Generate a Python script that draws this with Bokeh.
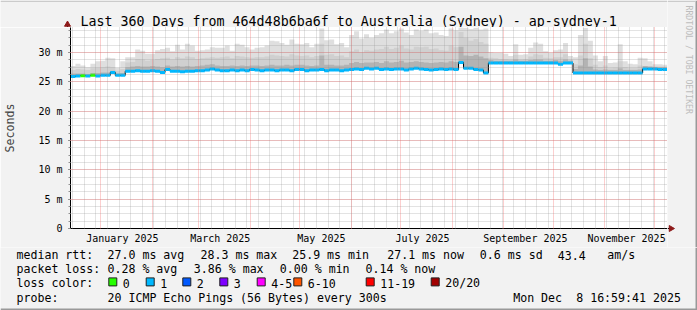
import math
import pandas as pd
from bokeh.plotting import figure
from bokeh.layouts import column, row
from bokeh.models import (FixedTicker, Range1d, ColumnDataSource, DatetimeTickFormatter, Plot)
from bokeh.core.properties import value
from bokeh.embed import file_html
from bokeh.resources import INLINE

FONT = "DejaVu Sans Mono"

# ---------------- data ----------------
START = "2024-12-13 16:59:41"
END = "2025-12-08 16:59:41"
BIN_DAYS = 3

# median rtt per 3-day bin (ms)
median = [
    25.9, 26.0, 26.05, 26.0, 26.1, 26.0, 26.1, 26.1, 26.6, 26.1,
    26.1, 26.8, 26.8, 26.9, 26.8, 26.8, 26.9, 26.8, 26.6, 27.1,
    26.8, 26.8, 26.7, 26.8, 26.8, 26.9, 26.9, 27.0, 27.2, 27.0,
    26.9, 26.9, 27.0, 26.9, 27.0, 26.9, 27.1, 27.0, 26.9, 27.0,
    27.0, 26.9, 27.0, 27.0, 26.9, 27.1, 27.1, 26.9, 27.0, 27.0,
    27.1, 26.9, 27.0, 27.0, 26.9, 27.0, 27.1, 27.2, 27.1, 27.3,
    27.2, 27.3, 27.1, 27.2, 27.1, 27.2, 27.2, 27.0, 27.2, 27.3,
    27.2, 27.1, 27.0, 27.1, 27.2, 27.1, 27.2, 27.1, 28.3, 27.3,
    27.3, 27.1, 27.0, 26.5, 28.2, 28.2, 28.2, 28.2, 28.2, 28.2,
    28.2, 28.2, 28.2, 28.2, 28.2, 28.2, 28.2, 28.2, 28.0, 28.2,
    28.2, 26.5, 26.5, 26.5, 26.5, 26.5, 26.5, 26.5, 26.5, 26.5,
    26.5, 26.5, 26.5, 26.5, 26.5, 27.2, 27.2, 27.2, 27.1, 27.1,
]

# smoke: maximum ping (outer envelope)
smoke_max = [
    27.7, 28.1, 27.8, 27.5, 28.1, 28.5, 28.6, 29.1, 29.0, 27.4,
    28.5, 29.2, 29.2, 30.5, 30.3, 29.8, 29.8, 30.4, 30.6, 30.8,
    30.2, 31.3, 30.5, 31.5, 31.2, 30.3, 30.4, 30.5, 30.9, 30.8,
    30.8, 31.2, 30.3, 31.5, 31.3, 30.9, 30.5, 30.8, 30.9, 31.2,
    32.0, 31.9, 31.6, 31.3, 32.2, 31.5, 31.4, 31.6, 30.9, 31.5,
    34.1, 32.1, 32.2, 31.4, 31.6, 30.9, 33.0, 33.6, 32.4, 33.1,
    32.5, 33.0, 33.3, 33.9, 33.3, 33.6, 34.1, 33.4, 33.0, 33.9,
    33.7, 33.9, 33.3, 33.4, 33.0, 32.8, 34.1, 33.8, 34.3, 34.2,
    34.0, 34.2, 33.9, 34.1, 30.0, 29.9, 29.9, 29.8, 29.4, 31.4,
    29.6, 29.7, 30.8, 31.7, 31.5, 30.2, 29.9, 30.4, 30.5, 31.6,
    29.4, 29.2, 33.0, 34.2, 32.0, 29.5, 28.5, 29.4, 28.2, 28.3,
    31.4, 28.5, 28.1, 28.0, 29.1, 29.0, 28.5, 28.0, 28.0, 27.9,
]

# smoke: middle band upper edge
smoke_mid = [
    27.0, 27.2, 27.1, 27.0, 27.3, 27.4, 27.5, 27.6, 27.5, 26.9,
    27.2, 28.3, 28.4, 28.9, 28.8, 28.6, 28.7, 28.9, 29.0, 29.1,
    28.8, 29.2, 29.0, 29.3, 29.2, 28.9, 29.0, 29.1, 29.2, 29.1,
    29.2, 29.3, 29.0, 29.4, 29.3, 29.2, 29.1, 29.2, 29.2, 29.3,
    29.6, 29.5, 29.4, 29.3, 29.7, 29.5, 29.4, 29.5, 29.2, 29.4,
    31.5, 29.6, 29.7, 29.4, 29.5, 29.2, 30.2, 30.5, 30.0, 30.4,
    30.3, 30.5, 30.6, 31.0, 30.6, 30.8, 31.2, 30.7, 30.5, 31.0,
    30.9, 31.0, 30.6, 30.7, 30.4, 30.3, 31.2, 30.9, 33.5, 32.5,
    32.0, 32.3, 31.8, 31.5, 29.1, 29.0, 28.9, 28.9, 28.8, 29.6,
    28.8, 28.9, 29.3, 29.7, 29.6, 29.1, 29.0, 29.2, 29.2, 29.7,
    28.8, 28.0, 29.5, 31.5, 29.0, 27.9, 27.5, 27.8, 27.3, 27.4,
    28.5, 27.5, 27.3, 27.3, 27.8, 27.7, 27.6, 27.6, 27.6, 27.6,
]

# smoke: dense inner band upper edge
smoke_inner = [
    26.4, 26.4, 26.4, 26.3, 26.5, 26.5, 26.6, 26.6, 26.9, 26.4,
    26.5, 27.5, 27.6, 27.7, 27.6, 27.6, 27.7, 27.6, 27.5, 27.8,
    27.6, 27.7, 27.6, 27.7, 27.6, 27.7, 27.8, 27.9, 28.0, 27.8,
    27.7, 27.7, 27.8, 27.7, 27.8, 27.7, 27.8, 27.8, 27.7, 27.8,
    27.9, 27.8, 27.8, 27.9, 27.8, 27.9, 27.9, 27.8, 27.7, 27.8,
    29.5, 27.9, 27.9, 27.8, 27.8, 27.9, 28.2, 28.4, 28.2, 28.3,
    28.3, 28.4, 28.2, 28.5, 28.3, 28.4, 28.6, 28.3, 28.4, 28.5,
    28.4, 28.3, 28.2, 28.3, 28.4, 28.3, 28.5, 28.4, 31.0, 29.5,
    29.4, 29.6, 29.3, 29.0, 28.7, 28.6, 28.6, 28.6, 28.6, 28.8,
    28.6, 28.6, 28.7, 28.8, 28.8, 28.6, 28.6, 28.7, 28.6, 28.8,
    28.6, 27.2, 27.8, 29.0, 27.6, 27.1, 27.0, 27.1, 27.0, 27.0,
    27.3, 27.0, 27.0, 27.0, 27.1, 27.7, 27.6, 27.5, 27.5, 27.5,
]

# packet loss class of each bin (index into loss_labels)
loss = [1] * 120
loss[2] = 0
loss[4] = 0

loss_labels = ["0", "1", "2", "3", "4-5", "6-10", "11-19", "20/20"]
loss_colors = ["#26ff00", "#00b8ff", "#0059ff", "#7e00ff",
               "#ff00ff", "#ff5500", "#ff0000", "#a10000"]

y_ticks = [0, 5, 10, 15, 20, 25, 30]
y_tick_labels = ["0", "5 m", "10 m", "15 m", "20 m", "25 m", "30 m"]
y_minor_step = 1.25

x_tick_months = ["2025-01-01", "2025-03-01", "2025-05-01",
                 "2025-07-01", "2025-09-01", "2025-11-01"]
x_tick_labels = ["January 2025", "March 2025", "May 2025",
                 "July 2025", "September 2025", "November 2025"]

title_text = "Last 360 Days from 464d48b6ba6f to Australia (Sydney) - ap-sydney-1"
rtt_stats = ["27.0 ms avg", "28.3 ms max", "25.9 ms min", "27.1 ms now",
             "0.6 ms sd", "43.4", "am/s"]
loss_stats = ["0.28 % avg", "3.86 % max", "0.00 % min", "0.14 % now"]
probe_text = "20 ICMP Echo Pings (56 Bytes) every 300s"
stamp_parts = ["Mon Dec", "8 16:59:41 2025"]
watermark = "RRDTOOL / TOBI OETIKER"

# ---------------- layout constants (canvas pixels) ----------------
W, H = 697, 310
FL, FT, FW, FH = 67, 27, 600, 201        # plot frame
MAIN_H = 220                              # main figure height (below top strip)
SPLIT = FT + MAIN_H                       # canvas y where legend strip starts
Y_MAX = 34.26
BG = "#f2f2f2"
ARROW = "#8e1a1a"
TXT = "11.6px"
BASE_FIX = -3.3                           # text glyph baseline correction
HAS_FRAME_ALIGN = "frame_align" in Plot.properties()


def ms(ts):
    return int(pd.Timestamp(ts).value // 10**6)


def no_align(f):
    if HAS_FRAME_ALIGN:
        f.frame_align = False
    return f


def strip(w, h, x0, y0):
    """A frameless figure whose data coordinates equal canvas pixels."""
    f = figure(width=w, height=h, x_range=Range1d(x0, x0 + w),
               y_range=Range1d(y0 + h, y0), output_backend="svg",
               toolbar_location=None, min_border=0, x_axis_location=None,
               y_axis_location=None, title=None, background_fill_color=BG,
               border_fill_color=BG, outline_line_color=None)
    f.grid.visible = False
    return no_align(f)


def put_text(f, texts, xs, ys, size=TXT, color="black", angle=0.0,
             align="left", baseline="alphabetic", fix=BASE_FIX):
    f.text(x=xs, y=[y + fix for y in ys], text=texts, text_font=value(FONT),
           text_font_size=value(size), text_color=color, angle=angle,
           text_align=align, text_baseline=baseline)


# ---------------- main plot ----------------
n = len(median)
edges = pd.date_range(start=START, periods=n + 1, freq=f"{BIN_DAYS}D")
t0, t1 = pd.Timestamp(START), pd.Timestamp(END)

p = figure(width=FL + FW, height=MAIN_H, x_axis_type="datetime",
           x_range=Range1d(t0, t1), y_range=Range1d(0, Y_MAX),
           output_backend="svg", toolbar_location=None, title=None,
           min_border_left=FL, min_border_right=0, min_border_top=0,
           min_border_bottom=MAIN_H - FH,
           background_fill_color="white", border_fill_color=BG,
           outline_line_color=None)
no_align(p)

ext = lambda a: list(a) + [a[-1]]
step_src = ColumnDataSource(dict(
    x=edges.to_numpy(), med=ext(median), mx=ext(smoke_max),
    mid=ext(smoke_mid), inner=ext(smoke_inner)))

p.varea_step(x="x", y1="med", y2="mx", step_mode="after", source=step_src,
             fill_color="#dfdfdf")
p.varea_step(x="x", y1="med", y2="mid", step_mode="after", source=step_src,
             fill_color="#d0d0d0")
p.varea_step(x="x", y1="med", y2="inner", step_mode="after", source=step_src,
             fill_color="#b3b3b3")
p.step(x="x", y="med", mode="after", source=step_src,
       line_color="black", line_width=1)

seg_src = ColumnDataSource(dict(
    x0=edges[:-1].to_numpy(), x1=edges[1:].to_numpy(), y=median,
    c=[loss_colors[k] for k in loss]))
p.segment(x0="x0", y0="y", x1="x1", y1="y", line_color="c", line_width=3,
          source=seg_src)

label_ms = [ms(pd.Timestamp(m) + pd.Timedelta(hours=312)) for m in x_tick_months]
month_ms = [ms(d) for d in pd.date_range("2025-01-01", "2025-12-01", freq="MS")]
sunday_ms = [ms(d) for d in pd.date_range("2024-12-15", END, freq="7D")]

p.xaxis.ticker = FixedTicker(ticks=label_ms, minor_ticks=[])
p.xaxis.formatter = DatetimeTickFormatter(days="%B %Y", months="%B %Y", years="%B %Y")
p.xaxis.major_label_overrides = dict(zip(label_ms, x_tick_labels))
p.xaxis.major_tick_line_color = None
p.xaxis.minor_tick_line_color = None
p.xaxis.major_tick_out = 0
p.xaxis.major_tick_in = 0
p.xaxis.major_label_standoff = 4

y_minor = [y_minor_step * k for k in range(int(Y_MAX / y_minor_step) + 1)]
yt = FixedTicker(ticks=y_ticks, minor_ticks=y_minor)
p.yaxis.ticker = yt
p.yaxis.major_label_overrides = dict(zip(y_ticks, y_tick_labels))
p.yaxis.major_tick_out = 2
p.yaxis.major_tick_in = 0
p.yaxis.minor_tick_out = 2
p.yaxis.minor_tick_in = 0
p.yaxis.major_tick_line_color = "#404040"
p.yaxis.minor_tick_line_color = "#909090"
p.yaxis.major_label_standoff = 6
p.yaxis.axis_label = "Seconds"
p.yaxis.axis_label_text_font = FONT
p.yaxis.axis_label_text_font_size = TXT
p.yaxis.axis_label_text_font_style = "normal"
p.yaxis.axis_label_standoff = 18

for ax in (p.xaxis[0], p.yaxis[0]):
    ax.axis_line_color = "black"
    ax.major_label_text_font = FONT
    ax.major_label_text_font_size = "10px"
    ax.major_label_text_color = "black"

p.xgrid.ticker = FixedTicker(ticks=month_ms, minor_ticks=sunday_ms)
p.ygrid.ticker = yt
for g in (p.xgrid[0], p.ygrid[0]):
    g.level = "overlay"
    g.grid_line_color = "#f55f5f"
    g.grid_line_alpha = 0.6
    g.grid_line_dash = "1 1"
    g.minor_grid_line_color = "#8f8f8f"
    g.minor_grid_line_alpha = 0.5
    g.minor_grid_line_dash = "1 1"

# ---------------- top strip: title + y arrow ----------------
top = strip(FL + FW, FT, 0, 0)
put_text(top, [title_text], [80], [23.8], size="13.3px")
top.segment(x0=[FL], y0=[24], x1=[FL], y1=[FT], line_color="black", line_width=1)
top.scatter(x=[FL], y=[24], marker="triangle", size=6,
            fill_color=ARROW, line_color=ARROW)
top.quad(left=[0], right=[FL + FW], top=[0], bottom=[1.5],
         fill_color="#cbcbcb", line_color=None)

# ---------------- right strip: x arrow + watermark ----------------
side = strip(W - FL - FW, SPLIT, FL + FW, 0)
side.segment(x0=[FL + FW], y0=[FT + FH], x1=[FL + FW + 3], y1=[FT + FH],
             line_color="black", line_width=1)
side.scatter(x=[FL + FW + 3.5], y=[FT + FH], marker="triangle", size=6,
             angle=-math.pi / 2, fill_color=ARROW, line_color=ARROW)
put_text(side, [watermark], [688], [5], size="8.2px", color="#bdbdbd",
         angle=-math.pi / 2, baseline="middle", fix=0)
side.quad(left=[W - 2], right=[W], top=[0], bottom=[SPLIT],
          fill_color="#999999", line_color=None)
side.quad(left=[FL + FW], right=[W - 2], top=[0], bottom=[1.5],
          fill_color="#cbcbcb", line_color=None)

# ---------------- legend strip ----------------
leg = strip(W, H - SPLIT, 0, SPLIT)
rows = [258.0, 272.1, 286.2, 300.3]
put_text(leg, ["median rtt:"] + rtt_stats,
         [16, 107, 200, 291.7, 386.7, 479.3, 557.3, 606.7], [rows[0]] * 8)
put_text(leg, ["packet loss:"] + loss_stats,
         [16, 107, 193.3, 279.3, 365], [rows[1]] * 5)
box_x = [108.3, 145.7, 182.3, 219.3, 256.7, 293.3, 365.7, 430.7]
leg.quad(left=box_x, right=[b + 8 for b in box_x],
         top=[rows[2] - 8.8] * 8, bottom=[rows[2] - 0.8] * 8,
         fill_color=loss_colors, line_color="#202020", line_width=1)
put_text(leg, ["loss color:"] + loss_labels,
         [16] + [b + 14 for b in box_x], [rows[2]] * 9)
put_text(leg, ["probe:", probe_text] + stamp_parts,
         [16, 107, 512.7, 512.7 + 9 * 7], [rows[3]] * 4)
leg.quad(left=[0], right=[W], top=[H - 2], bottom=[H],
         fill_color="#999999", line_color=None)
leg.quad(left=[W - 2], right=[W], top=[SPLIT], bottom=[H],
         fill_color="#999999", line_color=None)

layout = column(row(column(row(top), row(p)), side), leg)
open("out.html", "w").write(file_html(layout, INLINE))
